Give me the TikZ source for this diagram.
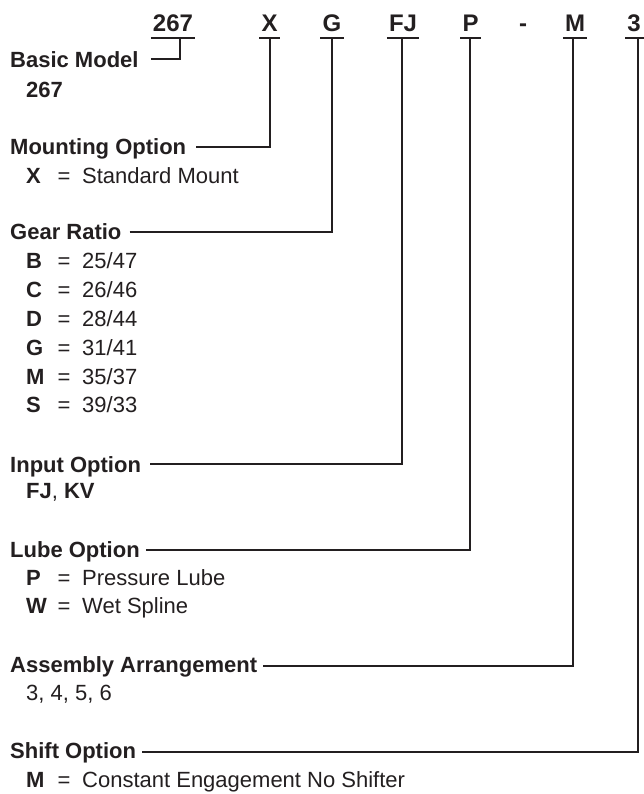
\documentclass[tikz,border=0pt]{standalone}
\usepackage{fontspec}
\setmainfont{Liberation Sans}
\usetikzlibrary{calc}
\definecolor{ink}{HTML}{231F20}

\begin{document}
\begin{tikzpicture}[x=1pt,y=-1pt,text=ink,
  code/.style={anchor=base, inner sep=0pt, font=\fontsize{24}{28}\selectfont\bfseries},
  head/.style={anchor=base west, inner sep=0pt, font=\fontsize{22}{26}\selectfont\bfseries},
  key/.style={anchor=base west, inner sep=0pt, font=\fontsize{22}{26}\selectfont\bfseries},
  eq/.style={anchor=base, inner sep=0pt, font=\fontsize{22}{26}\selectfont},
  val/.style={anchor=base west, inner sep=0pt, font=\fontsize{22}{26}\selectfont},
  lead/.style={draw=ink, line width=2pt}]
\useasboundingbox (0,0) rectangle (644,794);
\node[code] (code267) at (173,32) {267};
\node[code] (codeX) at (269.5,32) {X};
\node[code] (codeG) at (332,32) {G};
\node[code] (codeFJ) at (403,32) {FJ};
\node[code] (codeP) at (470.5,32) {P};
\node[code] (codeDash) at (523,32) {-};
\node[code] (codeM) at (575,32) {M};
\node[code] (code3) at (634,32) {3};
\foreach \c in {267,X,G,FJ,P,M}
  \draw[lead] ($(code\c.base west)+(-2,6)$) -- ($(code\c.base east)+(2,6)$);
\draw[lead] ($(code3.base west)+(-2,6)$) -- ($(code3.base east)+(20,6)$);

\node[head] (basic) at (10,68) {Basic Model};
\node[key] (basic267) at (26,98) {267};
\draw[lead] ($(basic.base east)+(12,-9)$) -| ($(code267.base)+(7,6)$);

\node[head] (mounting) at (10,155) {Mounting Option};
\node[key] (mountK) at (26,184) {X};
\node[eq] (mountEq) at (64,184) {=};
\node[val] (mountV) at (82,184) {Standard Mount};
\draw[lead] ($(mounting.base east)+(10,-8)$) -| ($(codeX.base)+(0,6)$);

\node[head] (gear) at (10,240) {Gear Ratio};
\foreach \k/\n/\d [count=\i] in {B/25/47, C/26/46, D/28/44, G/31/41, M/35/37, S/39/33} {
  \node[key] (gearK\i) at (26,{240+28.8*\i}) {\k};
  \node[eq] (gearEq\i) at (64,{240+28.8*\i}) {=};
  \node[val] (gearV\i) at (82,{240+28.8*\i}) {\n/\d};
}
\draw[lead] ($(gear.base east)+(8,-8)$) -| ($(codeG.base)+(0,6)$);

\node[head] (input) at (10,472) {Input Option};
\node[val] (inputV) at (26,498) {\textbf{FJ}, \textbf{KV}};
\draw[lead] ($(input.base east)+(9,-8)$) -| ($(codeFJ.base)+(-1.5,6)$);

\node[head] (lube) at (10,557) {Lube Option};
\node[key] (lubeK1) at (26,585) {P};
\node[eq] (lubeEq1) at (64,585) {=};
\node[val] (lubeV1) at (82,585) {Pressure Lube};
\node[key] (lubeK2) at (26,613) {W};
\node[eq] (lubeEq2) at (64,613) {=};
\node[val] (lubeV2) at (82,613) {Wet Spline};
\draw[lead] ($(lube.base east)+(6,-7)$) -| ($(codeP.base)+(-1,6)$);

\node[head] (assembly) at (10,672) {Assembly Arrangement};
\node[val] (assemblyV) at (26,700) {3, 4, 5, 6};
\draw[lead] ($(assembly.base east)+(6,-6)$) -| ($(codeM.base)+(-2,6)$);

\node[head] (shift) at (10,758) {Shift Option};
\node[key] (shiftK) at (26,787) {M};
\node[eq] (shiftEq) at (64,787) {=};
\node[val] (shiftV) at (82,787) {Constant Engagement No Shifter};
\draw[lead] ($(shift.base east)+(6,-6)$) -| ($(code3.base)+(4,6)$);
\end{tikzpicture}
\end{document}
